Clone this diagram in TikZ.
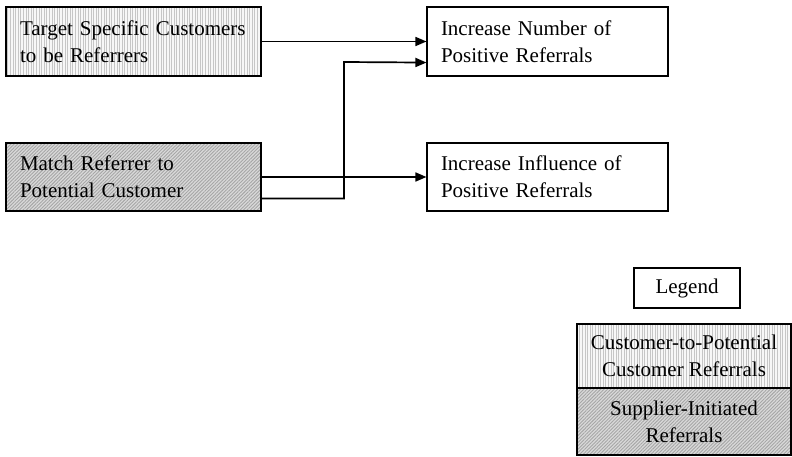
\documentclass[tikz,border=0pt]{standalone}
\usepackage{fontspec}
\setmainfont{Liberation Serif}
\usetikzlibrary{arrows.meta,patterns.meta}

\tikzset{
	box/.style={draw,line width=1.1pt,inner xsep=14pt,inner ysep=0pt,align=left,font=\fontsize{21}{27}\selectfont},
	custfill/.style={preaction={fill=gray!6},pattern={Lines[angle=90,distance=2.6pt,line width=0.9pt]},pattern color=gray!45},
	suppfill/.style={preaction={fill=gray!30},pattern={Lines[angle=45,distance=2.4pt,line width=0.9pt]},pattern color=gray!70},
	link/.style={line width=1.7pt,-{Triangle[length=11pt,width=9pt]}}
}

\begin{document}
\begin{tikzpicture}[x=1pt,y=-1pt]
	\useasboundingbox (0,0) rectangle (792,457);
	\node[box,custfill,minimum width=255pt,minimum height=69pt,text width=227pt] (target) at (133.5,41.5) {Target Specific Customers\\to be Referrers};
	\node[box,suppfill,minimum width=255pt,minimum height=68pt,text width=227pt] (match) at (133.5,177) {Match Referrer to\\Potential Customer};
	\node[box,minimum width=241pt,minimum height=69pt,text width=213pt] (number) at (547.5,41.5) {Increase Number of\\Positive Referrals};
	\node[box,minimum width=241pt,minimum height=68pt,text width=213pt] (influence) at (547.5,177) {Increase Influence of\\Positive Referrals};
	\draw[link] (target.east) -- (number.west);
	\draw[link] (match.east) -- (influence.west);
	\draw[link] ([yshift=13pt]match.south east) -| (344,62) -- ([yshift=14pt]number.south west);
	% legend
	\node[box,align=center,minimum width=106pt,minimum height=40pt] (legend) at (687,288) {Legend};
	\node[box,custfill,align=center,minimum width=214pt,minimum height=64pt,inner xsep=0pt] (custref) at (684,356) {Customer-to-Potential\\Customer Referrals};
	\node[box,suppfill,align=center,minimum width=214pt,minimum height=67pt,inner xsep=0pt] (suppref) at (684,421.5) {Supplier-Initiated\\Referrals};
\end{tikzpicture}
\end{document}
